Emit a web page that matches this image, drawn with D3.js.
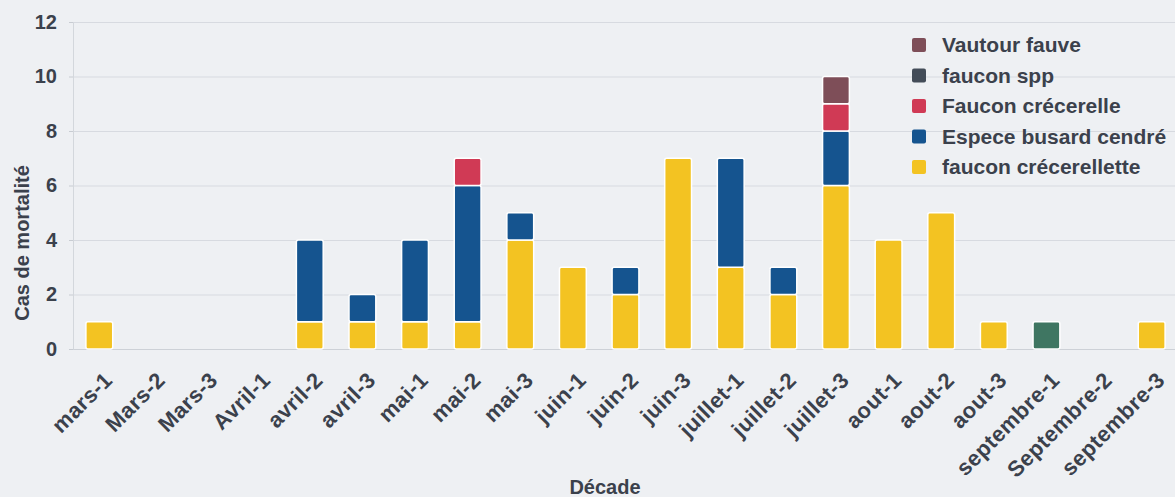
<!DOCTYPE html>
<html>
<head>
<meta charset="utf-8">
<script src="https://cdn.jsdelivr.net/npm/d3@7"></script>
<style>
  html, body { margin: 0; padding: 0; background: #eef0f3; }
  svg { display: block; font-family: "Liberation Sans", Arial, sans-serif; }
</style>
</head>
<body>
<svg id="chart" width="1175" height="497"></svg>
<script>
// Décades (ten-day periods), in order along the x axis
const decades = ["mars-1", "Mars-2", "Mars-3", "Avril-1", "avril-2", "avril-3", "mai-1", "mai-2", "mai-3",
  "juin-1", "juin-2", "juin-3", "juillet-1", "juillet-2", "juillet-3", "aout-1", "aout-2", "aout-3",
  "septembre-1", "Septembre-2", "septembre-3"];

// Mortality counts per species and décade (stacking order: bottom to top)
const faucon_crecerellette = [1, 0, 0, 0, 1, 1, 1, 1, 4, 3, 2, 7, 3, 2, 6, 4, 5, 1, 0, 0, 1];
const espece_busard_cendre = [0, 0, 0, 0, 3, 1, 3, 5, 1, 0, 1, 0, 4, 1, 2, 0, 0, 0, 0, 0, 0];
const faucon_crecerelle    = [0, 0, 0, 0, 0, 0, 0, 1, 0, 0, 0, 0, 0, 0, 1, 0, 0, 0, 0, 0, 0];
const faucon_spp           = [0, 0, 0, 0, 0, 0, 0, 0, 0, 0, 0, 0, 0, 0, 0, 0, 0, 0, 0, 0, 0];
const vautour_fauve        = [0, 0, 0, 0, 0, 0, 0, 0, 0, 0, 0, 0, 0, 0, 1, 0, 0, 0, 0, 0, 0];
const autre_espece         = [0, 0, 0, 0, 0, 0, 0, 0, 0, 0, 0, 0, 0, 0, 0, 0, 0, 0, 1, 0, 0];

const seriesNames = ["faucon crécerellette", "Espece busard cendré", "Faucon crécerelle", "faucon spp", "Vautour fauve", "autre"];
const seriesValues = [faucon_crecerellette, espece_busard_cendre, faucon_crecerelle, faucon_spp, vautour_fauve, autre_espece];
const seriesColors = ["#f3c322", "#15548f", "#d03a55", "#434c58", "#7e4e58", "#3f7662"];
const inLegend = [true, true, true, true, true, false];

const yTicks = [0, 2, 4, 6, 8, 10, 12];

const svg = d3.select("#chart");
const W = 1175, H = 497;

const x = d3.scaleBand().domain(decades).range([73, 1178]).paddingInner(0.49).paddingOuter(0.245);
const y = d3.scaleLinear().domain([0, 12]).range([349, 22]);

svg.append("rect").attr("width", W).attr("height", H).attr("fill", "#eef0f3");

// horizontal grid
svg.append("g").selectAll("line").data(yTicks).join("line")
  .attr("x1", 73).attr("x2", W)
  .attr("y1", d => y(d) + 0.5).attr("y2", d => y(d) + 0.5)
  .attr("stroke", "#d7dae0").attr("stroke-width", 1);

// y axis
const yAxis = svg.append("g").attr("transform", "translate(73,0)")
  .call(d3.axisLeft(y).tickValues(yTicks).tickSize(4).tickPadding(12));
yAxis.select(".domain").attr("stroke", "#d3d7dc");
yAxis.selectAll(".tick line").attr("stroke", "#c8ccd2");
yAxis.selectAll("text").attr("font-size", 20).attr("font-weight", "bold").attr("fill", "#3b414c");

// x axis with slanted labels
const xAxis = svg.append("g").attr("transform", "translate(0,349)")
  .call(d3.axisBottom(x).tickSize(0).tickPadding(0));
xAxis.select(".domain").attr("stroke", "#cdd1d7");
xAxis.selectAll(".tick text")
  .attr("font-size", 22).attr("font-weight", "bold").attr("fill", "#3b414c")
  .attr("letter-spacing", "0.4px")
  .attr("text-anchor", "end")
  .attr("transform", "translate(9,27) rotate(-45)")
  .attr("dy", "0.35em").attr("dx", "0");

// stacked bars
const rows = decades.map((d, i) => {
  const r = { decade: d };
  seriesNames.forEach((s, k) => { r[s] = seriesValues[k][i]; });
  return r;
});
const stack = d3.stack().keys(seriesNames)(rows);

svg.append("g").selectAll("g").data(stack).join("g")
  .attr("fill", (d, k) => seriesColors[k])
  .selectAll("rect").data(d => d.filter(p => p[1] > p[0])).join("rect")
  .attr("x", p => x(p.data.decade))
  .attr("width", x.bandwidth())
  .attr("y", p => y(p[1]))
  .attr("height", p => y(p[0]) - y(p[1]))
  .attr("rx", 2)
  .attr("stroke", "#ffffff").attr("stroke-width", 1.5);

// axis titles
svg.append("text").attr("transform", "translate(29,243) rotate(-90)")
  .attr("text-anchor", "middle").attr("font-size", 20).attr("font-weight", "bold").attr("fill", "#3b414c")
  .text("Cas de mortalité");
svg.append("text").attr("x", 605).attr("y", 494)
  .attr("text-anchor", "middle").attr("font-size", 20).attr("font-weight", "bold").attr("fill", "#3b414c")
  .text("Décade");

// legend, top entry last in the stack
const legendItems = seriesNames.map((s, k) => ({ name: s, color: seriesColors[k], show: inLegend[k] }))
  .filter(d => d.show).reverse();
const legend = svg.append("g").attr("transform", "translate(912,45)");
const li = legend.selectAll("g").data(legendItems).join("g")
  .attr("transform", (d, i) => `translate(0,${i * 30.5})`);
li.append("rect").attr("x", 0).attr("y", -7).attr("width", 14).attr("height", 14).attr("rx", 2)
  .attr("fill", d => d.color);
li.append("text").attr("x", 30).attr("y", 0).attr("dy", "0.35em")
  .attr("font-size", 21).attr("font-weight", "bold").attr("fill", "#3b414c")
  .text(d => d.name);
</script>
</body>
</html>
